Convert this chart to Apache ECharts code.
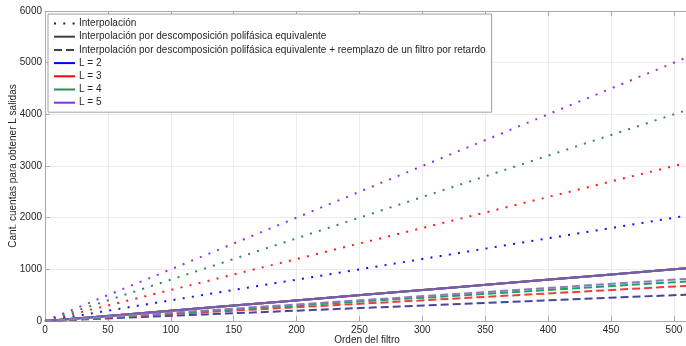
<!DOCTYPE html>
<html>
<head>
<meta charset="utf-8">
<script src="https://cdn.jsdelivr.net/npm/echarts@6/dist/echarts.min.js"></script>
<style>
html,body{margin:0;padding:0;background:#fff;}
#chart{width:686px;height:346px;}
</style>
</head>
<body>
<div id="chart"></div>
<script>
// Filter order (x axis)
const orden = [0, 64, 128, 192, 256, 320, 384, 448, 512];

// Interpolación (dotted)
const interpL2 = [0, 256, 512, 768, 1024, 1280, 1536, 1792, 2048];
const interpL3 = [0, 384, 768, 1152, 1536, 1920, 2304, 2688, 3072];
const interpL4 = [0, 512, 1024, 1536, 2048, 2560, 3072, 3584, 4096];
const interpL5 = [0, 640, 1280, 1920, 2560, 3200, 3840, 4480, 5120];

// Interpolación por descomposición polifásica equivalente (solid)
const polyL2 = [0, 128, 256, 384, 512, 640, 768, 896, 1024];
const polyL3 = [0, 128, 256, 384, 512, 640, 768, 896, 1024];
const polyL4 = [0, 128, 256, 384, 512, 640, 768, 896, 1024];
const polyL5 = [0, 128, 256, 384, 512, 640, 768, 896, 1024];

// ... + reemplazo de un filtro por retardo (dashed)
const retL2 = [0, 64, 128, 192, 256, 320, 384, 448, 512];
const retL3 = [0, 85, 171, 256, 341, 427, 512, 597, 683];
const retL4 = [0, 96, 192, 288, 384, 480, 576, 672, 768];
const retL5 = [0, 102, 205, 307, 410, 512, 614, 717, 819];

const legendNames = [
  'Interpolación',
  'Interpolación por descomposición polifásica equivalente',
  'Interpolación por descomposición polifásica equivalente + reemplazo de un filtro por retardo',
  'L = 2', 'L = 3', 'L = 4', 'L = 5'
];

const xMin = 0, xMax = 512, xInterval = 50;
const yMin = 0, yMax = 6000, yInterval = 1000;

const colInterp = ['#1010ff', '#ff1a1a', '#2e8b57', '#9030ee'];
const colPoly = ['#4040c0', '#e04040', '#20a060', '#7e57b0'];
const colRet = ['#45459e', '#f03c3c', '#10a860', '#9474c4'];

function pairs(ys) { return orden.map((x, i) => [x, ys[i]]); }

const dotted = [2, 7.3];
const dashed = [8, 4];

const series = [];
[interpL2, interpL3, interpL4, interpL5].forEach((d, i) => {
  series.push({type: 'line', name: 'interp' + (i + 2), data: pairs(d), symbol: 'none',
    lineStyle: {color: colInterp[i], width: 2, type: dotted, cap: 'butt'}, z: 2});
});
[polyL2, polyL3, polyL4, polyL5].forEach((d, i) => {
  series.push({type: 'line', name: 'poly' + (i + 2), data: pairs(d), symbol: 'none',
    lineStyle: {color: colPoly[i], width: 2, type: 'solid'}, z: 3});
});
[retL2, retL3, retL4, retL5].forEach((d, i) => {
  series.push({type: 'line', name: 'ret' + (i + 2), data: pairs(d), symbol: 'none',
    lineStyle: {color: colRet[i], width: 2, type: dashed, cap: 'butt'}, z: 4});
});
// legend-only series
const legendStyles = [
  {color: '#222', type: dotted},
  {color: '#404040', type: 'solid'},
  {color: '#404040', type: dashed},
  {color: '#0000ff', type: 'solid'},
  {color: '#ff0000', type: 'solid'},
  {color: '#2e8b57', type: 'solid'},
  {color: '#8a2be2', type: 'solid'}
];
legendNames.forEach((n, i) => {
  series.push({type: 'line', name: n, data: [], symbol: 'none',
    itemStyle: {color: legendStyles[i].color},
    lineStyle: {color: legendStyles[i].color, width: 2, type: legendStyles[i].type, cap: 'butt'}});
});

const axisColor = '#aaaaaa';
const textColor = '#262626';
const font = 'Liberation Sans, Arial, sans-serif';

const chart = echarts.init(document.getElementById('chart'), null, {renderer: 'canvas'});
chart.setOption({
  animation: false,
  backgroundColor: '#ffffff',
  textStyle: {fontFamily: font},
  grid: {left: 45, top: 11, right: -3, bottom: 25, containLabel: false, outerBoundsMode: 'none'},
  legend: {
    data: legendNames,
    orient: 'vertical',
    left: 48, top: 14,
    padding: [3, 6, 3, 5],
    itemWidth: 21, itemHeight: 13, itemGap: 0.2,
    backgroundColor: '#ffffff',
    borderColor: '#a0a0a0', borderWidth: 1, borderRadius: 0,
    selectedMode: false,
    itemStyle: {opacity: 0},
    textStyle: {fontSize: 10, color: textColor, fontFamily: font, lineHeight: 13, padding: [0, 0, 0, -1]},
    z: 10
  },
  xAxis: [{
    type: 'value', min: xMin, max: xMax, interval: xInterval,
    position: 'bottom',
    name: 'Orden del filtro', nameLocation: 'middle', nameGap: 14, nameMoveOverlap: false,
    nameTextStyle: {fontSize: 10, color: textColor, fontFamily: font},
    axisLine: {show: true, lineStyle: {color: axisColor, width: 1}},
    axisTick: {show: true, inside: true, length: 5, lineStyle: {color: axisColor}},
    axisLabel: {fontSize: 10, color: textColor, margin: 4, fontFamily: font, formatter: v => String(v)},
    splitLine: {show: true, lineStyle: {color: '#ebebeb', width: 1}}
  }, {
    type: 'value', min: xMin, max: xMax, interval: xInterval,
    position: 'top',
    axisLine: {show: true, lineStyle: {color: axisColor, width: 1}},
    axisTick: {show: true, inside: true, length: 5, lineStyle: {color: axisColor}},
    axisLabel: {show: false},
    splitLine: {show: false}
  }],
  yAxis: {
    type: 'value', min: yMin, max: yMax, interval: yInterval,
    name: 'Cant. cuentas para obtener L salidas', nameLocation: 'middle', nameGap: 27, nameMoveOverlap: false,
    nameTextStyle: {fontSize: 10, color: textColor, fontFamily: font},
    axisLine: {show: true, lineStyle: {color: axisColor, width: 1}},
    axisTick: {show: true, inside: true, length: 5, lineStyle: {color: axisColor}},
    axisLabel: {fontSize: 10, color: textColor, margin: 3, fontFamily: font, formatter: v => String(v)},
    splitLine: {show: true, lineStyle: {color: '#ebebeb', width: 1}}
  },
  series: series
});
</script>
</body>
</html>
